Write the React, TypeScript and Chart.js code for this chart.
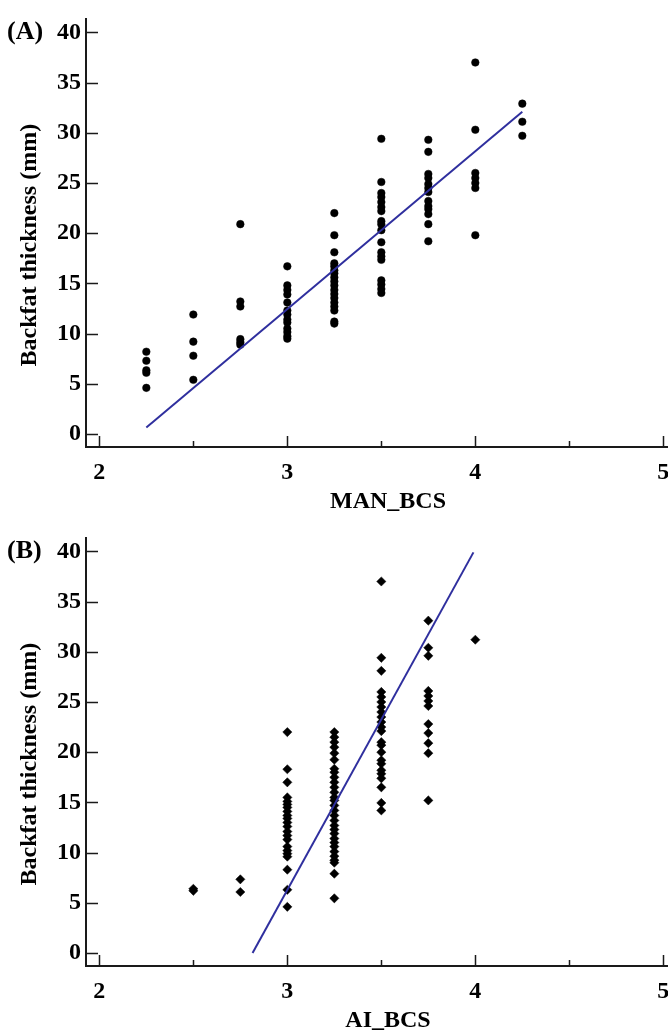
import React, { useEffect, useRef } from 'react';
import { Chart, registerables } from 'chart.js';

Chart.register(...registerables);

// Axis ticks
const xMajorTicks = [2, 3, 4, 5];
const xMinorTicks = [2.5, 3.5, 4.5];
const yTicks = [0, 5, 10, 15, 20, 25, 30, 35, 40];
const xRange = [1.929, 5.142];
const yRange = [-1.29, 41.29];

// Panel A: MAN_BCS vs backfat thickness (mm)
const manLevels = [2.25, 2.5, 2.75, 3, 3.25, 3.5, 3.75, 4, 4.25];
const man225 = [8.2, 7.3, 6.35, 6.1, 4.6];
const man250 = [11.9, 9.2, 7.8, 5.4];
const man275 = [20.9, 13.2, 12.7, 9.45, 9.15, 8.9];
const man300 = [16.7, 14.8, 14.35, 13.9, 13.1, 12.3, 11.9, 11.4, 11.1, 10.5, 10.15, 9.75, 9.5];
const man325 = [22.0, 19.8, 18.1, 17.0, 16.7, 16.3, 16.0, 15.6, 15.2, 14.8, 14.35, 13.95, 13.55, 13.1, 12.7, 12.3, 11.2, 11.0];
const man350 = [29.4, 25.1, 24.0, 23.6, 23.1, 22.6, 22.2, 21.2, 20.9, 20.3, 19.1, 18.1, 17.7, 17.35, 15.3, 14.9, 14.45, 14.05];
const man375 = [29.3, 28.1, 25.9, 25.5, 24.9, 24.5, 24.1, 23.2, 22.7, 22.4, 21.9, 20.9, 19.2];
const man400 = [37.0, 30.3, 26.0, 25.5, 25.0, 24.5, 19.8];
const man425 = [32.9, 31.1, 29.7];
const manColumns = [man225, man250, man275, man300, man325, man350, man375, man400, man425];
const manFitX = [2.25, 4.25];
const manFitY = [0.66, 32.1];

// Panel B: AI_BCS vs backfat thickness (mm)
const aiLevels = [2.5, 2.75, 3, 3.25, 3.5, 3.75, 4];
const ai250 = [6.4, 6.2];
const ai275 = [7.34, 6.08];
const ai300 = [22.0, 18.3, 17.0, 15.5, 15.1, 14.8, 14.5, 14.1, 13.7, 13.4, 13.0, 12.6, 12.1, 11.7, 11.3, 10.6, 10.2, 9.9, 9.6, 8.3, 6.3, 4.6];
const ai325 = [22.0, 21.5, 21.0, 20.5, 19.9, 19.25, 18.35, 18.0, 17.5, 17.0, 16.5, 16.0, 15.5, 15.2, 14.7, 14.2, 13.7, 13.2, 12.7, 12.3, 11.9, 11.4, 11.0, 10.6, 10.1, 9.65, 9.25, 9.0, 7.9, 5.45];
const ai350 = [37.0, 29.4, 28.1, 26.0, 25.5, 25.0, 24.5, 24.0, 23.5, 23.0, 22.5, 22.1, 21.0, 20.7, 20.0, 19.2, 18.85, 18.2, 17.85, 17.4, 16.5, 14.95, 14.2];
const ai375 = [33.1, 30.4, 29.6, 26.1, 25.6, 25.1, 24.6, 22.8, 21.9, 20.9, 19.9, 15.2];
const ai400 = [31.2];
const aiColumns = [ai250, ai275, ai300, ai325, ai350, ai375, ai400];
const aiFitX = [2.815, 3.99];
const aiFitY = [0.0, 39.9];

const FONT_FAMILY = '"Liberation Serif", "Times New Roman", serif';
const AXIS_COLOR = '#1a1a1a';
const CANVAS_W = 700;
const CANVAS_H = 519;

type PanelProps = {
  panelLabel: string;
  xTitle: string;
  levels: number[];
  columns: number[][];
  fitX: number[];
  fitY: number[];
  pointStyle: 'circle' | 'rectRot';
  pointRadius: number;
};

function Panel({ panelLabel, xTitle, levels, columns, fitX, fitY, pointStyle, pointRadius }: PanelProps) {
  const ref = useRef<HTMLCanvasElement | null>(null);

  useEffect(() => {
    if (!ref.current) return;
    const points: { x: number; y: number }[] = [];
    levels.forEach((lv, i) => {
      columns[i].forEach((v) => points.push({ x: lv, y: v }));
    });
    const fit = fitX.map((x, i) => ({ x, y: fitY[i] }));

    const decor = {
      id: 'decor',
      afterDraw(chart: any) {
        const { ctx, chartArea } = chart;
        const xs = chart.scales.x;
        const ys = chart.scales.y;
        ctx.save();
        ctx.strokeStyle = AXIS_COLOR;
        ctx.lineWidth = 1.5;
        ctx.beginPath();
        yTicks.forEach((v) => {
          const py = Math.round(ys.getPixelForValue(v)) + 0.5;
          ctx.moveTo(chartArea.left, py);
          ctx.lineTo(chartArea.left + 12, py);
        });
        xMajorTicks.forEach((v) => {
          const px = Math.round(xs.getPixelForValue(v)) + 0.5;
          ctx.moveTo(px, chartArea.bottom);
          ctx.lineTo(px, chartArea.bottom - 11);
        });
        xMinorTicks.forEach((v) => {
          const px = Math.round(xs.getPixelForValue(v)) + 0.5;
          ctx.moveTo(px, chartArea.bottom);
          ctx.lineTo(px, chartArea.bottom - 6);
        });
        ctx.stroke();

        ctx.fillStyle = '#000';
        ctx.textAlign = 'left';
        ctx.textBaseline = 'middle';
        ctx.font = `bold 26px ${FONT_FAMILY}`;
        ctx.fillText(panelLabel, 7, ys.getPixelForValue(40));

        ctx.font = `bold 24px ${FONT_FAMILY}`;
        ctx.translate(30, (chartArea.top + chartArea.bottom) / 2 + 12);
        ctx.rotate(-Math.PI / 2);
        ctx.textAlign = 'center';
        ctx.fillText('Backfat thickness (mm)', 0, 0);
        ctx.restore();
      },
    };

    const tickFont = { family: FONT_FAMILY, size: 24, weight: 'bold' as const };

    const chart = new Chart(ref.current, {
      type: 'scatter',
      data: {
        datasets: [
          {
            data: fit,
            showLine: true,
            borderColor: '#2f2f9e',
            borderWidth: 2,
            pointRadius: 0,
            fill: false,
            order: 0,
          },
          {
            data: points,
            pointStyle,
            pointRadius,
            backgroundColor: '#000',
            borderColor: '#000',
            borderWidth: 0.5,
            order: 1,
          },
        ],
      },
      options: {
        animation: false,
        responsive: false,
        events: [],
        layout: { padding: { top: 18, right: CANVAS_W - 690, left: 0, bottom: 0 } },
        plugins: { legend: { display: false }, tooltip: { enabled: false } },
        scales: {
          x: {
            type: 'linear',
            min: xRange[0],
            max: xRange[1],
            afterBuildTicks: (s: any) => {
              s.ticks = xMajorTicks.map((v) => ({ value: v }));
            },
            afterFit: (s: any) => {
              s.height = 72;
            },
            grid: { display: false, drawTicks: false },
            border: { display: true, color: AXIS_COLOR, width: 2 },
            ticks: { padding: 11, color: '#000', font: tickFont, maxRotation: 0 },
            title: {
              display: true,
              text: xTitle,
              color: '#000',
              font: tickFont,
              padding: { top: 0, bottom: 3 },
            },
          },
          y: {
            type: 'linear',
            min: yRange[0],
            max: yRange[1],
            afterBuildTicks: (s: any) => {
              s.ticks = yTicks.map((v) => ({ value: v }));
            },
            afterFit: (s: any) => {
              s.width = 86;
            },
            grid: { display: false, drawTicks: false },
            border: { display: true, color: AXIS_COLOR, width: 2 },
            ticks: { padding: 5, color: '#000', font: tickFont },
          },
        },
      },
      plugins: [decor],
    });
    return () => chart.destroy();
  }, []);

  return <canvas ref={ref} width={CANVAS_W} height={CANVAS_H} style={{ display: 'block', width: CANVAS_W, height: CANVAS_H }} />;
}

export default function App() {
  return (
    <div
      style={{
        position: 'absolute',
        left: 0,
        top: 0,
        width: 668,
        height: 1032,
        overflow: 'hidden',
        background: '#fff',
      }}
    >
      <Panel
        panelLabel="(A)"
        xTitle="MAN_BCS"
        levels={manLevels}
        columns={manColumns}
        fitX={manFitX}
        fitY={manFitY}
        pointStyle="circle"
        pointRadius={3.8}
      />
      <Panel
        panelLabel="(B)"
        xTitle="AI_BCS"
        levels={aiLevels}
        columns={aiColumns}
        fitX={aiFitX}
        fitY={aiFitY}
        pointStyle="rectRot"
        pointRadius={4.6}
      />
    </div>
  );
}
